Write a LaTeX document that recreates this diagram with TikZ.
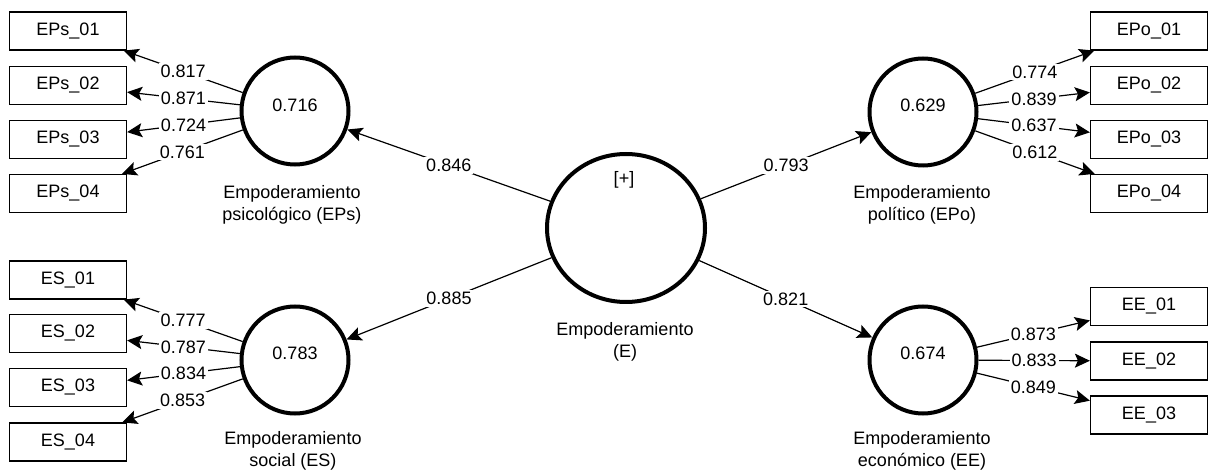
\documentclass[tikz,border=0pt]{standalone}
\usepackage{fontspec}
\setmainfont{Liberation Sans}
\usetikzlibrary{arrows.meta,shapes.geometric}
\begin{document}
\begin{tikzpicture}[x=1pt,y=-1pt,
  font=\fontsize{18}{22}\selectfont,
  ind/.style={draw,line width=1.2pt,minimum width=117pt,minimum height=38pt,inner sep=0pt},
  lat/.style={draw,circle,line width=4pt,minimum size=107pt,inner sep=0pt},
  arr/.style={line width=1.2pt,-{Stealth[length=15pt,width=14pt,inset=3pt]}},
  lbl/.style={fill=white,inner sep=2pt,midway},
  lvcaption/.style={align=center}]
\useasboundingbox (0,0) rectangle (1208,470);
% latent variables
\node[lat] (EPs) at (295,111) {};
\node[lat] (ES) at (295,360) {};
\node[lat] (EPo) at (923,112) {};
\node[lat] (EE) at (923,360) {};
\node[draw,ellipse,line width=4pt,minimum width=158pt,minimum height=148pt,inner sep=0pt] (E) at (626,228) {};
\node (Eplus) at (624,180) {[+]};
\node (vEPs) at (295,105) {0.716};
\node (vES) at (295,353) {0.783};
\node (vEPo) at (923,105) {0.629};
\node (vEE) at (923,353) {0.674};
\node[lvcaption] (cEPs) at (292,205) {Empoderamiento\\psicológico (EPs)};
\node[lvcaption] (cES) at (293,451) {Empoderamiento\\social (ES)};
\node[lvcaption] (cEPo) at (922,205) {Empoderamiento\\político (EPo)};
\node[lvcaption] (cEE) at (922,451) {Empoderamiento\\económico (EE)};
\node[lvcaption] (cE) at (625,342) {Empoderamiento\\(E)};
% indicators
\node[ind] (EPs1) at (68,31) {EPs\_01};
\node[ind] (EPs2) at (68,85.5) {EPs\_02};
\node[ind] (EPs3) at (68,139.5) {EPs\_03};
\node[ind] (EPs4) at (68,193.5) {EPs\_04};
\node[ind] (ES1) at (68,280) {ES\_01};
\node[ind] (ES2) at (68,333.5) {ES\_02};
\node[ind] (ES3) at (68,387.5) {ES\_03};
\node[ind] (ES4) at (68,442) {ES\_04};
\node[ind] (EPo1) at (1149,31) {EPo\_01};
\node[ind] (EPo2) at (1149,85.5) {EPo\_02};
\node[ind] (EPo3) at (1149,139.5) {EPo\_03};
\node[ind] (EPo4) at (1149,193.5) {EPo\_04};
\node[ind] (EE1) at (1149,306.5) {EE\_01};
\node[ind] (EE2) at (1149,361) {EE\_02};
\node[ind] (EE3) at (1149,415) {EE\_03};
% loadings
\draw[arr] (EPs) -- node[lbl] {0.817} (EPs1);
\draw[arr] (EPs) -- node[lbl] {0.871} (EPs2);
\draw[arr] (EPs) -- node[lbl] {0.724} (EPs3);
\draw[arr] (EPs) -- node[lbl] {0.761} (EPs4);
\draw[arr] (ES) -- node[lbl] {0.777} (ES1);
\draw[arr] (ES) -- node[lbl] {0.787} (ES2);
\draw[arr] (ES) -- node[lbl] {0.834} (ES3);
\draw[arr] (ES) -- node[lbl] {0.853} (ES4);
\draw[arr] (EPo) -- node[lbl] {0.774} (EPo1);
\draw[arr] (EPo) -- node[lbl] {0.839} (EPo2);
\draw[arr] (EPo) -- node[lbl] {0.637} (EPo3);
\draw[arr] (EPo) -- node[lbl] {0.612} (EPo4);
\draw[arr] (EE) -- node[lbl] {0.873} (EE1);
\draw[arr] (EE) -- node[lbl] {0.833} (EE2);
\draw[arr] (EE) -- node[lbl] {0.849} (EE3);
% structural paths
\draw[arr] (E) -- node[lbl] {0.846} (EPs);
\draw[arr] (E) -- node[lbl] {0.885} (ES);
\draw[arr] (E) -- node[lbl] {0.793} (EPo);
\draw[arr] (E) -- node[lbl] {0.821} (EE);
\end{tikzpicture}
\end{document}
